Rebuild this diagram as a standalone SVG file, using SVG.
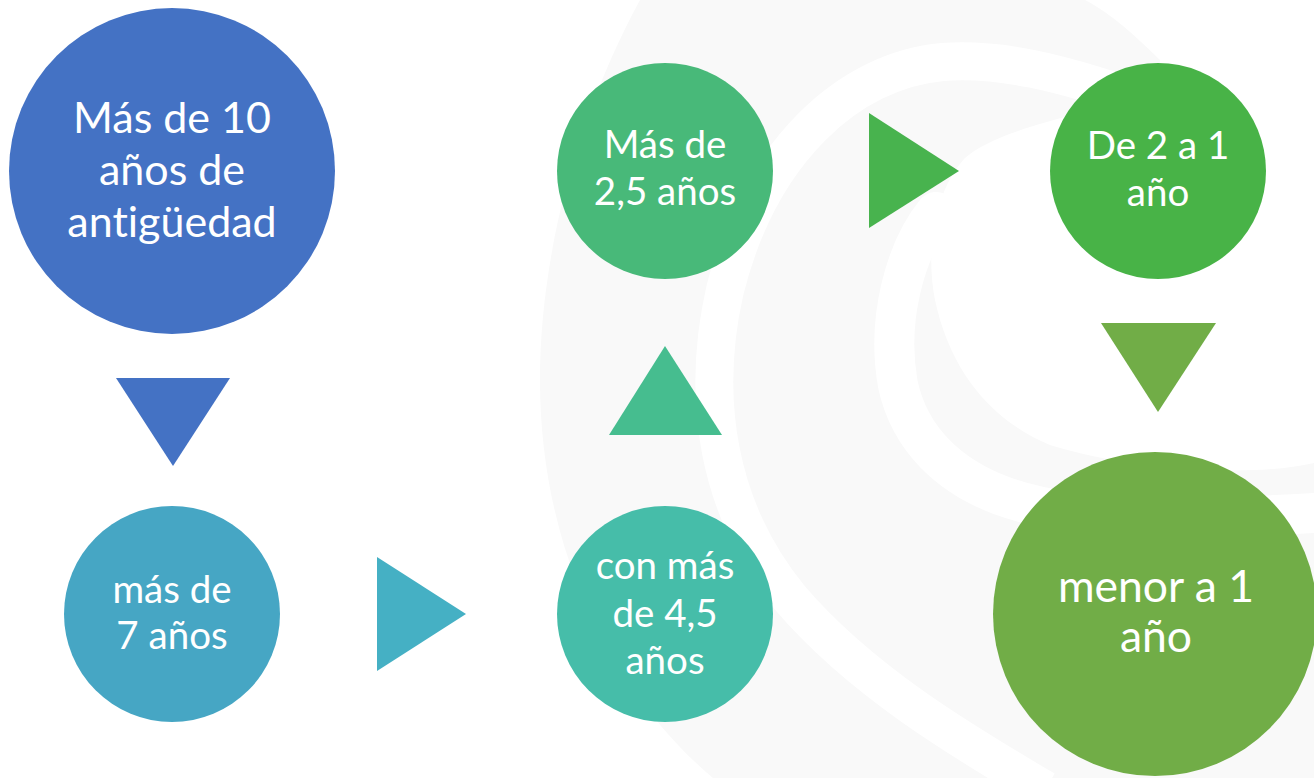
<svg xmlns="http://www.w3.org/2000/svg" width="1314" height="778" viewBox="0 0 1314 778">
  <style>
    .lbl { font-family: Lato, "Open Sans", "Liberation Sans", sans-serif; fill: #FFFFFF; text-anchor: middle; font-variant-ligatures: none; font-feature-settings: "liga" 0; }
    .big { font-size: 43px; }
    .big2 { font-size: 44.5px; }
    .small { font-size: 38.5px; }
    .gap { fill: none; stroke: #FFFFFF; }
  </style>
  <rect x="0" y="0" width="1314" height="778" fill="#FFFFFF"/>
  <g id="watermark">
    <path fill="#F9F9F9" d="M 640,0 C 580,110 540,250 540,380 C 540,560 620,700 713,778 L 1314,778 L 1314,463 C 1250,478 1130,470 1050,445 C 990,420 950,370 935,300 C 925,250 935,190 965,158 C 985,140 1030,125 1085,112 L 1160,100 L 1160,60 C 1130,30 1105,10 1085,0 Z"/>
    <path class="gap" stroke-width="38" d="M 1140,100 C 1060,72 1000,58 943,62 C 850,70 760,150 725,290 C 700,400 718,510 790,598 C 860,680 960,740 1045,790"/>
    <path class="gap" stroke-width="40" stroke-linecap="round" d="M 936,212 C 905,250 886,320 898,385 C 910,440 950,476 1000,495 C 1080,525 1200,520 1330,512"/>
  </g>
  <g id="connectors">
    <polygon id="arrow1" points="116,378 230,378 173,466" fill="#4472C4"/>
    <polygon id="arrow2" points="377,557 377,671 466,614" fill="#45B0C4"/>
    <polygon id="arrow3" points="609,435 722,435 665,346" fill="#46BD8F"/>
    <polygon id="arrow4" points="869,113 869,228 959,171" fill="#48B34E"/>
    <polygon id="arrow5" points="1101,323 1216,323 1158,412" fill="#71AD47"/>
  </g>
  <g id="node1">
    <circle cx="172" cy="171" r="163" fill="#4472C4"/>
    <text class="lbl big"><tspan x="172" y="133">Más de 10</tspan><tspan x="172" y="185">años de</tspan><tspan x="172" y="237">antigüedad</tspan></text>
  </g>
  <g id="node2">
    <circle cx="172" cy="614" r="108" fill="#46A6C4"/>
    <text class="lbl small"><tspan x="172" y="603">más de</tspan><tspan x="172" y="649">7 años</tspan></text>
  </g>
  <g id="node3">
    <circle cx="665" cy="614" r="108" fill="#46BDA9"/>
    <text class="lbl small"><tspan x="665" y="579">con más</tspan><tspan x="665" y="627">de 4,5</tspan><tspan x="665" y="674">años</tspan></text>
  </g>
  <g id="node4">
    <circle cx="665" cy="171" r="108" fill="#48B979"/>
    <text class="lbl small"><tspan x="665" y="158">Más de</tspan><tspan x="665" y="205">2,5 años</tspan></text>
  </g>
  <g id="node5">
    <circle cx="1158" cy="171" r="108" fill="#48B347"/>
    <text class="lbl small"><tspan x="1158" y="159">De 2 a 1</tspan><tspan x="1158" y="206">año</tspan></text>
  </g>
  <g id="node6">
    <circle cx="1155" cy="614" r="162" fill="#71AD47"/>
    <text class="lbl big2"><tspan x="1156" y="602">menor a 1</tspan><tspan x="1156" y="652">año</tspan></text>
  </g>
</svg>
